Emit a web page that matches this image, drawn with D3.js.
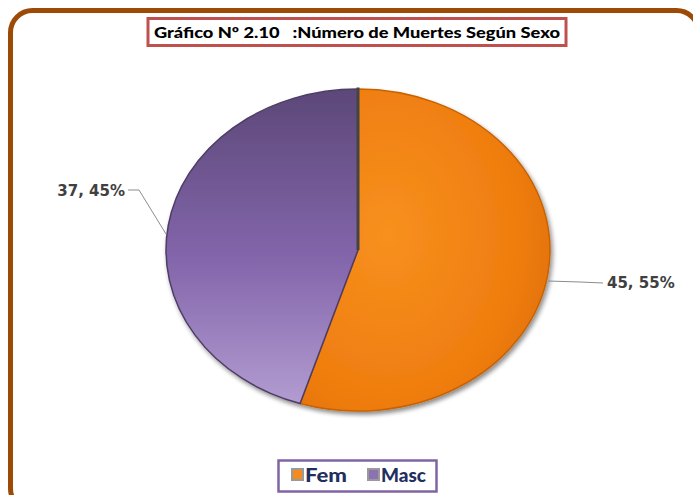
<!DOCTYPE html>
<html><head><meta charset="utf-8">
<script src="https://cdn.jsdelivr.net/npm/d3@7"></script>
<style>body{margin:0;background:#fff;}svg{display:block;}text{white-space:pre;}</style>
</head><body>
<svg id="c" width="693" height="495"></svg>
<script>
const categories = ["Fem", "Masc"];
const values = [45, 37];
const percents = ["55%", "45%"];
const title = "Gráfico Nº 2.10   :Número de Muertes Según Sexo";

const svg = d3.select("#c");
const defs = svg.append("defs");

// gradients
const gF = defs.append("radialGradient").attr("id","gFem").attr("cx","35%").attr("cy","45%").attr("r","75%");
gF.append("stop").attr("offset","0%").attr("stop-color","#F7901E");
gF.append("stop").attr("offset","70%").attr("stop-color","#EF7D0F");
gF.append("stop").attr("offset","100%").attr("stop-color","#DE6E06");
const gM = defs.append("linearGradient").attr("id","gMasc").attr("x1","0").attr("y1","0").attr("x2","0").attr("y2","1");
gM.append("stop").attr("offset","0%").attr("stop-color","#5C4878");
gM.append("stop").attr("offset","55%").attr("stop-color","#8466AC");
gM.append("stop").attr("offset","100%").attr("stop-color","#B29CD0");
const sh = defs.append("filter").attr("id","sh").attr("x","-20%").attr("y","-20%").attr("width","140%").attr("height","140%");
sh.append("feGaussianBlur").attr("in","SourceAlpha").attr("stdDeviation",2.5).attr("result","b");
sh.append("feOffset").attr("in","b").attr("dx",2).attr("dy",3).attr("result","o");
sh.append("feComponentTransfer").attr("in","o").attr("result","o2").append("feFuncA").attr("type","linear").attr("slope",0.45);
const mg = sh.append("feMerge"); mg.append("feMergeNode").attr("in","o2"); mg.append("feMergeNode").attr("in","SourceGraphic");

// frame
svg.append("rect").attr("x",10.5).attr("y",10.5).attr("width",688).attr("height",500).attr("rx",22)
  .attr("fill","none").attr("stroke","#9E4A07").attr("stroke-width",5);

// title
svg.append("rect").attr("x",148).attr("y",18.5).attr("width",418).attr("height",27)
  .attr("fill","#fff").attr("stroke","#C0504D").attr("stroke-width",3);
svg.append("text").attr("x",357).attr("y",38).attr("text-anchor","middle")
  .attr("font-family","Lato, 'Open Sans', sans-serif").attr("font-weight","900").attr("font-size",15)
  .attr("fill","#000").attr("textLength",406).attr("lengthAdjust","spacingAndGlyphs").text(title);

// pie
const cx = 358, cy = 250, rx = 192, ry = 161;
const pie = d3.pie().sort(null).value(d => d)(values);
const arc = d3.arc().innerRadius(0).outerRadius(rx);
const fills = ["url(#gFem)", "url(#gMasc)"];
const edge = ["#C86205", "#4E3E66"];
const g = svg.append("g").attr("transform", `translate(${cx},${cy}) scale(1,${ry/rx})`);
const gs = g.append("g").attr("filter","url(#sh)");
gs.selectAll("path").data(pie).join("path")
  .attr("d", arc).attr("fill", (d,i)=>fills[i])
  .attr("stroke",(d,i)=>edge[i]).attr("stroke-width",1.5).attr("vector-effect","non-scaling-stroke");
// divider
g.append("path").attr("d", arc({startAngle:0,endAngle:0.0001})).attr("stroke","#444").attr("stroke-width",3).attr("vector-effect","non-scaling-stroke");

// labels
const labelData = [
  {i:0, anchor:"start", lx:607, ly:288, pts:[[548,281],[580,282],[603,283]]},
  {i:1, anchor:"end", lx:125, ly:196, pts:[[166,234],[139,190],[128,190]]}
];
labelData.forEach(d=>{
  svg.append("polyline").attr("points", d.pts.map(p=>p.join(",")).join(" "))
    .attr("fill","none").attr("stroke","#8C8C8C").attr("stroke-width",1);
  svg.append("text").attr("x",d.lx).attr("y",d.ly).attr("text-anchor",d.anchor)
    .attr("font-family","'DejaVu Sans', Verdana, sans-serif").attr("font-weight","bold").attr("font-size",15)
    .attr("fill","#404040").text(`${values[d.i]}, ${percents[d.i]}`);
});

// legend
svg.append("rect").attr("x",278.5).attr("y",460.5).attr("width",158).attr("height",31)
  .attr("fill","#fff").attr("stroke","#8064A2").attr("stroke-width",2.5);
const legColors = ["#F58A1F","#8C72B0"];
const legX = [292, 368];
const legTL = [42, 45];
categories.forEach((c,i)=>{
  svg.append("rect").attr("x",legX[i]).attr("y",469).attr("width",11).attr("height",11)
    .attr("fill",legColors[i]).attr("stroke","#9a9a9a").attr("stroke-width",2);
  svg.append("text").attr("x",legX[i]+13).attr("y",482)
    .attr("font-family","Lato, 'Open Sans', sans-serif").attr("font-weight","900").attr("font-size",18)
    .attr("fill","#1F2F5E").attr("textLength",legTL[i]).attr("lengthAdjust","spacingAndGlyphs").text(c);
});
</script>
</body></html>
